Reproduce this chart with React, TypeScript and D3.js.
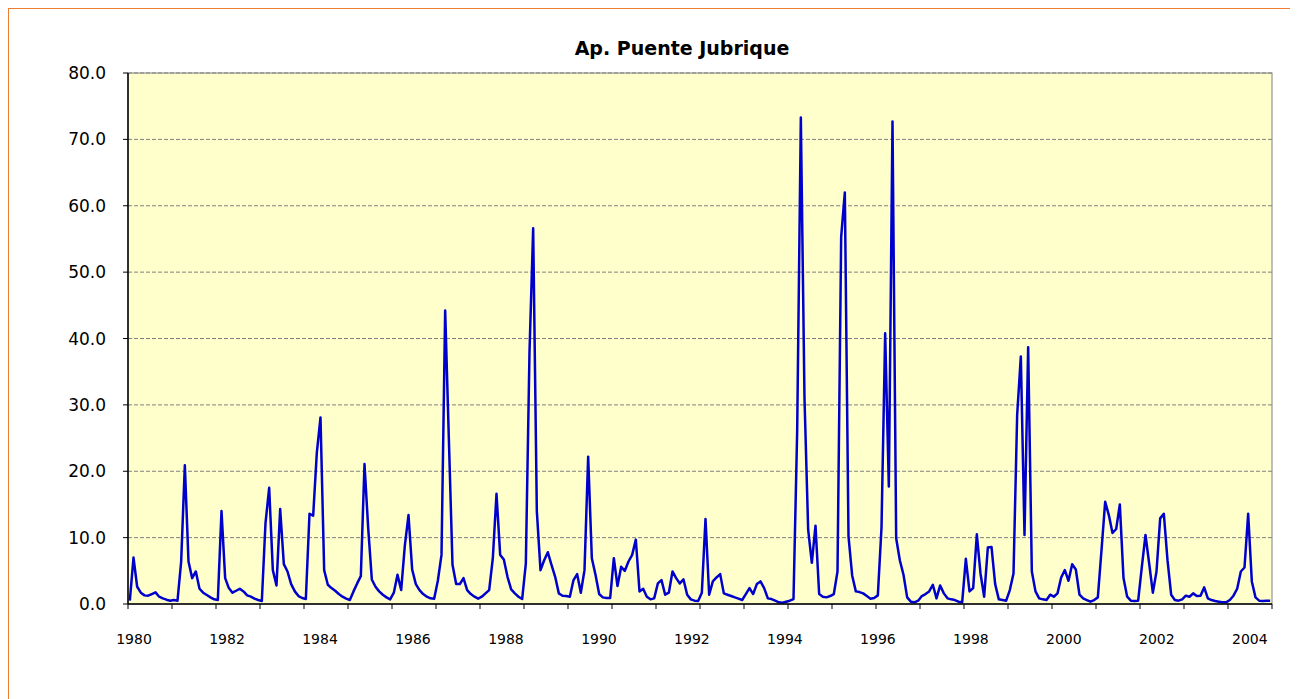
import React from "react";
import * as d3 from "d3";

const title = "Ap. Puente Jubrique";
const flows: number[] = [
  0.5, 7.0, 2.6, 1.7, 1.3, 1.25, 1.5, 1.75, 1.1, 0.85, 0.65, 0.5,
  0.6, 0.5, 6.4, 20.9, 6.4, 3.9, 4.9, 2.3, 1.7, 1.35, 1.0, 0.7,
  0.6, 14.0, 3.9, 2.4, 1.7, 2.0, 2.3, 1.9, 1.3, 1.1, 0.8, 0.6,
  0.45, 12.2, 17.5, 5.1, 2.8, 14.3, 6.0, 4.9, 3.0, 1.9, 1.2, 0.9,
  0.75, 13.6, 13.3, 22.8, 28.1, 5.1, 2.9, 2.4, 2.0, 1.5, 1.1, 0.8,
  0.6, 1.9, 3.1, 4.2, 21.1, 11.5, 3.7, 2.6, 1.9, 1.4, 1.0, 0.7,
  1.7, 4.4, 2.1, 8.8, 13.4, 5.2, 3.0, 2.1, 1.5, 1.1, 0.85, 0.8,
  3.5, 7.4, 44.2, 25, 5.9, 3.0, 3.0, 3.9, 2.1, 1.5, 1.1, 0.8,
  1.1, 1.6, 2.1, 6.9, 16.6, 7.4, 6.7, 4.1, 2.2, 1.6, 1.1, 0.75,
  6.1, 38, 56.6, 14, 5.1, 6.6, 7.8, 5.9, 4.1, 1.6, 1.25, 1.2,
  1.1, 3.6, 4.5, 1.7, 5.1, 22.2, 6.9, 4.4, 1.5, 1.0, 0.9, 0.9,
  6.9, 2.7, 5.6, 5.0, 6.4, 7.4, 9.7, 1.9, 2.3, 1.1, 0.7, 0.85,
  3.1, 3.6, 1.4, 1.7, 4.9, 3.9, 3.1, 3.7, 1.4, 0.7, 0.5, 0.45,
  1.7, 12.8, 1.4, 3.4, 4.0, 4.5, 1.6, 1.4, 1.2, 1.0, 0.8, 0.6,
  1.5, 2.4, 1.5, 3.0, 3.4, 2.4, 0.85, 0.75, 0.5, 0.25, 0.2, 0.35,
  0.5, 0.75, 26, 73.3, 31, 11.2, 6.2, 11.8, 1.5, 1.1, 1.0, 1.2,
  1.5, 4.9, 55.3, 62.0, 10.2, 4.3, 1.9, 1.8, 1.6, 1.2, 0.8, 0.9,
  1.3, 11.5, 40.8, 17.7, 72.7, 9.9, 6.6, 4.4, 1.0, 0.35, 0.25, 0.5,
  1.2, 1.5, 1.9, 2.9, 0.85, 2.8, 1.6, 0.85, 0.7, 0.6, 0.35, 0.25,
  6.8, 1.9, 2.4, 10.5, 4.6, 1.1, 8.5, 8.6, 3.0, 0.7, 0.6, 0.5,
  2.1, 4.6, 28.5, 37.3, 10.4, 38.7, 4.9, 1.9, 0.85, 0.7, 0.6, 1.4,
  1.1, 1.6, 4.0, 5.1, 3.5, 6.0, 5.2, 1.4, 0.85, 0.6, 0.35, 0.6,
  1.0, 8.1, 15.4, 13.4, 10.7, 11.3, 15.0, 3.9, 1.1, 0.5, 0.45, 0.5,
  5.6, 10.4, 6.1, 1.7, 4.9, 12.9, 13.6, 6.6, 1.4, 0.6, 0.5, 0.7,
  1.25, 1.1, 1.6, 1.2, 1.25, 2.5, 0.85, 0.6, 0.45, 0.35, 0.25, 0.25,
  0.6, 1.25, 2.3, 4.9, 5.5, 13.6, 3.4, 1.0, 0.5, 0.45, 0.5, 0.5,
];
const yTicks: number[] = [0, 10, 20, 30, 40, 50, 60, 70, 80];
const yearLabels: number[] = [1980, 1982, 1984, 1986, 1988, 1990, 1992, 1994, 1996, 1998, 2000, 2002, 2004];

export default function App() {
  const W = 1290;
  const H = 691;
  const left = 120, right = 1264, top = 65, bottom = 596;
  const n = flows.length;
  const x = d3.scaleLinear().domain([0, n]).range([left, right]);
  const y = d3.scaleLinear().domain([0, 80]).range([bottom, top]);
  const yearX = d3.scaleLinear().domain([1980, 2004]).range([x(1.64), x(1.64 + 24 * 12.68)]);
  const line = d3
    .line<number>()
    .x((_, i) => x(i + 0.5))
    .y((d) => y(d));
  const monthTicks = d3.range(0, n + 1, 12);
  const font = "'DejaVu Sans', Verdana, sans-serif";

  return (
    <svg width={W} height={H} style={{ display: "block" }}>
      <rect x={0} y={0} width={W + 20} height={H + 20} fill="#fff" stroke="#ED7D31" strokeWidth={2} />
      <text x={674} y={47} textAnchor="middle" fontFamily={font} fontWeight="bold" fontSize={19}>
        {title}
      </text>
      <rect x={left} y={top} width={right - left} height={bottom - top} fill="#FFFFCC" stroke="#808080" strokeWidth={1} />
      {yTicks.filter((t) => t > 0).map((t) => (
        <line key={"g" + t} x1={left} x2={right} y1={y(t)} y2={y(t)} stroke="#808080" strokeWidth={1} strokeDasharray="4,2" />
      ))}
      <path d={line(flows) ?? ""} fill="none" stroke="#0000CC" strokeWidth={2.5} strokeLinejoin="round" />
      <line x1={left} x2={left} y1={top} y2={bottom} stroke="#000" strokeWidth={1.5} />
      <line x1={left} x2={right} y1={bottom} y2={bottom} stroke="#000" strokeWidth={1.5} />
      {yTicks.map((t) => (
        <g key={"y" + t}>
          <line x1={left - 5} x2={left} y1={y(t)} y2={y(t)} stroke="#000" strokeWidth={1} />
          <text x={left - 22} y={y(t)} dy="0.36em" textAnchor="end" fontFamily={font} fontSize={17}>
            {t.toFixed(1)}
          </text>
        </g>
      ))}
      {monthTicks.map((m) => (
        <line key={"m" + m} x1={x(m)} x2={x(m)} y1={bottom} y2={bottom + 5} stroke="#000" strokeWidth={1} />
      ))}
      {yearLabels.map((yr) => (
        <text key={"yr" + yr} x={yearX(yr)} y={bottom + 40} textAnchor="middle" fontFamily={font} fontSize={14}>
          {yr}
        </text>
      ))}
    </svg>
  );
}
